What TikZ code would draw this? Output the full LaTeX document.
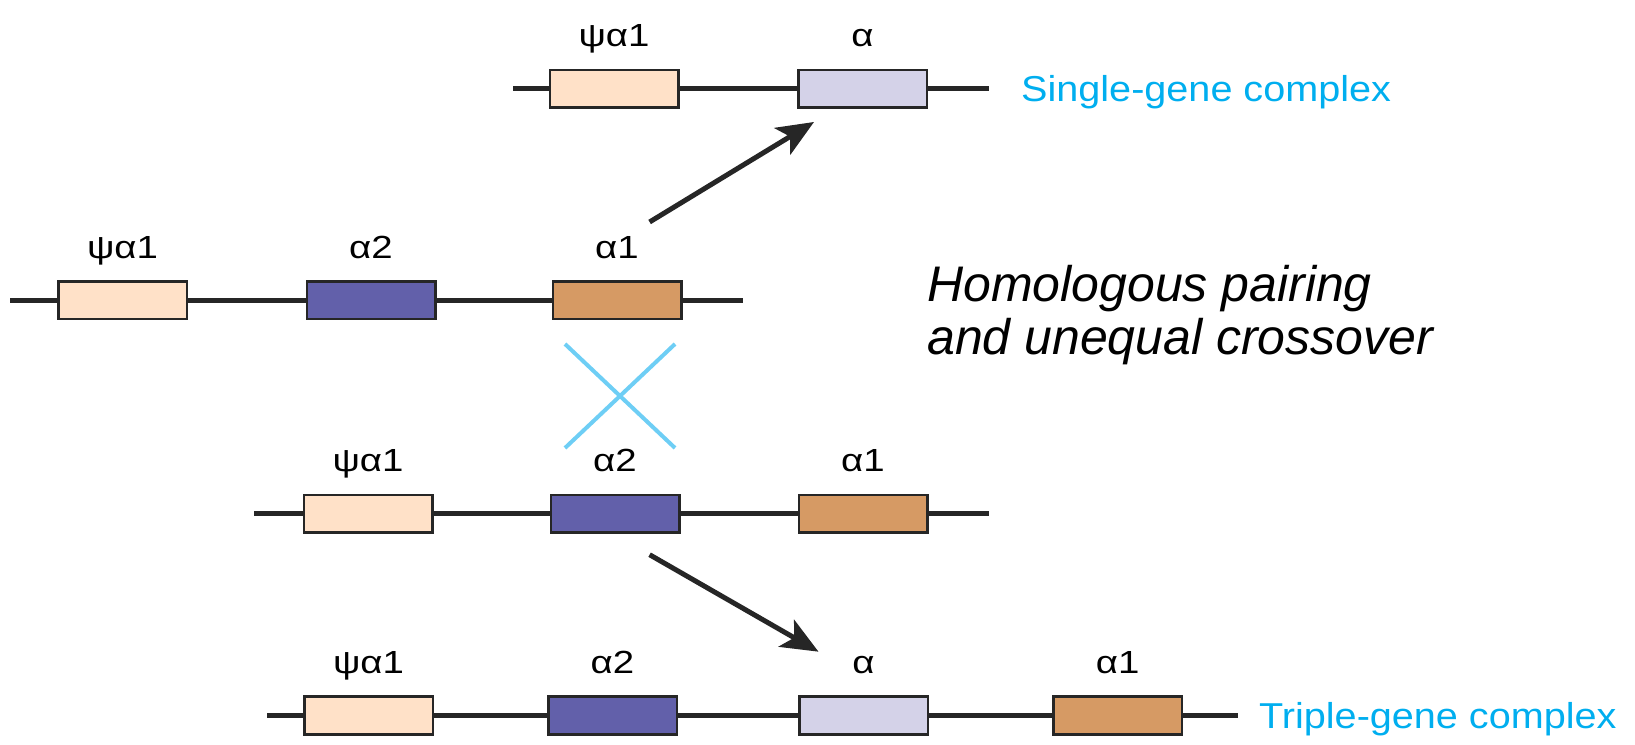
\documentclass[tikz,border=0pt]{standalone}
\usepackage{fontspec}
\setmainfont{Liberation Sans}
\newfontfamily\widesans[FakeStretch=1.2]{Liberation Sans}
\newfontfamily\sidesans[FakeStretch=1.1]{Liberation Sans}
\usetikzlibrary{arrows.meta}
\definecolor{psicol}{RGB}{255,225,200}
\definecolor{atwocol}{RGB}{98,96,170}
\definecolor{aonecol}{RGB}{214,154,100}
\definecolor{acol}{RGB}{212,210,232}
\definecolor{cyantxt}{RGB}{0,174,239}
\definecolor{crosscol}{RGB}{110,206,245}
\begin{document}
\begin{tikzpicture}[x=1pt,y=1pt,
  gene/.style={draw=black!85,line width=2.5pt,minimum width=128.5pt,minimum height=37.5pt,inner sep=0pt},
  glabel/.style={font=\widesans\fontsize{32}{38}\selectfont,inner sep=0pt,text depth=0pt},
  label distance=22pt,
  dna/.style={line width=5pt,draw=black!85},
  move/.style={line width=5pt,draw=black!85,-{Stealth[length=37pt,width=31pt,inset=9pt]}},
  swap/.style={line width=4pt,draw=crosscol},
  side/.style={font=\sidesans\fontsize{36}{42}\selectfont,text=cyantxt,inner sep=0pt,anchor=base west}]
\useasboundingbox (0,0) rectangle (1635,744);
% single-gene row
\coordinate (tw) at (513,655.4);
\coordinate (te) at (988.5,655.4);
\draw[dna] (tw) -- (te);
\node [gene,fill=psicol,label={[glabel]above:ψα1}] (tp) at (614,655.4) {};
\node [gene,fill=acol,label={[glabel]above:α}] (ta) at (862.5,655.4) {};
\node [side] (ts) at (1021,642.5) {Single-gene complex};
% first parent
\coordinate (mw) at (10.4,443.5);
\coordinate (me) at (743,443.5);
\draw[dna] (mw) -- (me);
\node [gene,fill=psicol,label={[glabel]above:ψα1}] (mp) at (122.5,443.5) {};
\node [gene,fill=atwocol,label={[glabel]above:α2}] (m2) at (371,443.5) {};
\node [gene,fill=aonecol,label={[glabel]above:α1}] (m1) at (617,443.5) {};
% second parent
\coordinate (lw) at (254,230);
\coordinate (le) at (988.5,230);
\draw[dna] (lw) -- (le);
\node [gene,fill=psicol,label={[glabel]above:ψα1}] (lp) at (368,230) {};
\node [gene,fill=atwocol,label={[glabel]above:α2}] (l2) at (615,230) {};
\node [gene,fill=aonecol,label={[glabel]above:α1}] (l1) at (863,230) {};
% triple-gene row
\coordinate (bw) at (267,28.5);
\coordinate (be) at (1237.7,28.5);
\draw[dna] (bw) -- (be);
\node [gene,fill=psicol,label={[glabel]above:ψα1}] (bp) at (368.5,28.5) {};
\node [gene,fill=atwocol,label={[glabel]above:α2}] (b2) at (612.5,28.5) {};
\node [gene,fill=acol,label={[glabel]above:α}] (ba) at (863.5,28.5) {};
\node [gene,fill=aonecol,label={[glabel]above:α1}] (b1) at (1117.7,28.5) {};
\node [side] (bs) at (1259,15.6) {Triple-gene complex};
% crossover
\coordinate (xa) at (565,400);
\coordinate (xb) at (675,296);
\coordinate (xc) at (675,400);
\coordinate (xd) at (565,296);
\draw[swap] (xa) -- (xb);
\draw[swap] (xc) -- (xd);
\node [font=\itshape\fontsize{50}{53}\selectfont,align=left,anchor=north west,inner sep=0pt] (pair) at (927,478.5)
  {Homologous pairing\\and unequal crossover};
% products
\coordinate (ua) at (649.6,522);
\coordinate (ub) at (814,622);
\coordinate (da) at (649.6,189.3);
\coordinate (db) at (818.5,92.3);
\draw[move] (ua) -- (ub);
\draw[move] (da) -- (db);
\end{tikzpicture}
\end{document}
